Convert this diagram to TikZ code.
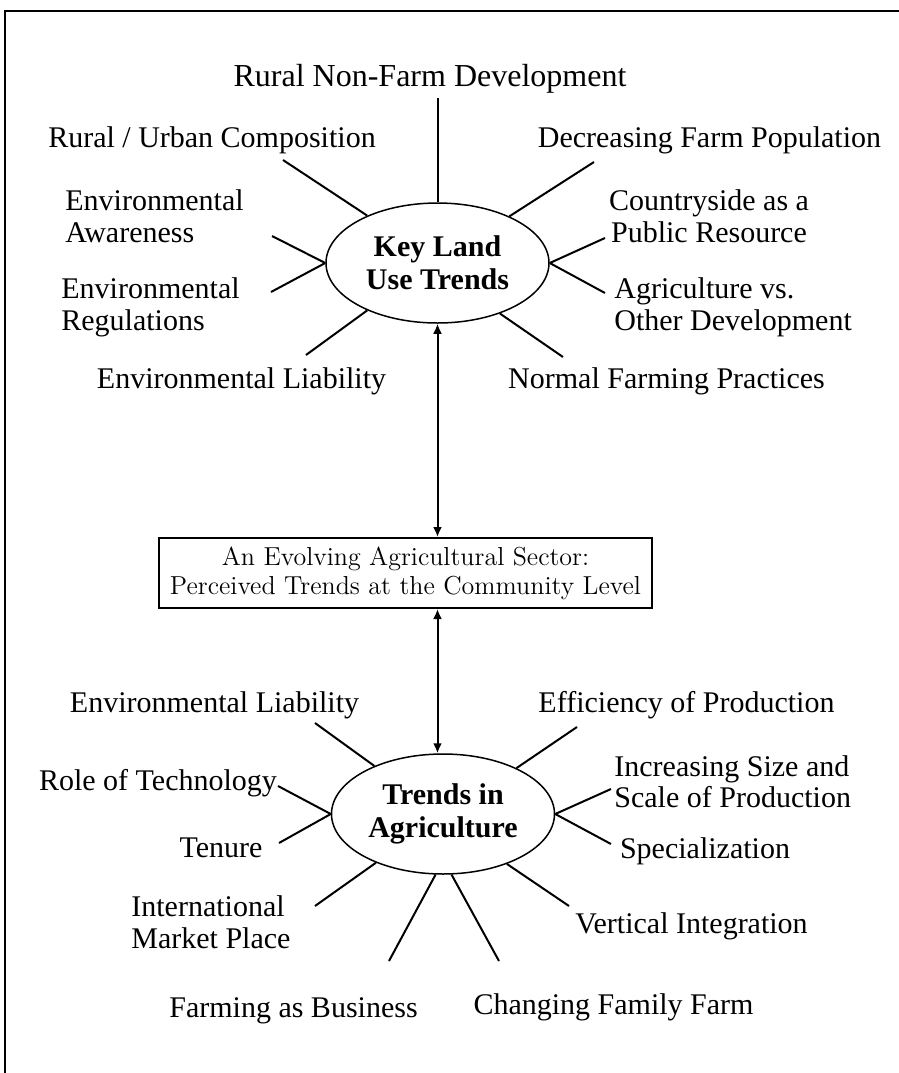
\documentclass[tikz,border=0pt]{standalone}
\usepackage{fontspec}
\newfontfamily\labelfont{Liberation Serif}
\usetikzlibrary{shapes.geometric,arrows.meta}

\begin{document}
\begin{tikzpicture}[x=0.5pt,y=-0.5pt]
    \tikzstyle{trend}=[font=\labelfont\fontsize{15}{15.75}\selectfont,inner sep=0pt]
    \tikzstyle{hub}=[draw,ellipse,line width=0.75pt,minimum width=111.5pt,minimum height=60pt,inner sep=0pt,align=center,font=\labelfont\bfseries\fontsize{15}{16.5}\selectfont]
    \tikzstyle{spoke}=[line width=1pt]
    \tikzstyle{twoway}=[line width=1pt,{Latex[length=5pt,width=4.5pt]}-{Latex[length=5pt,width=4.5pt]}]

    \useasboundingbox (0,0) rectangle (899,1073);
    \draw[line width=1pt] (4.5,1073) -- (4.5,11) -- (899,11);

    \node[hub] (key_land) at (437.5,263) {Key Land\\ Use Trends};
    \node[hub] (trends_agri) at (443,814) {Trends in\\ Agriculture};
    \node[draw,line width=1pt,minimum width=246.5pt,minimum height=35pt,inner sep=0pt,align=center,font=\fontsize{13}{14.5}\selectfont] (sector) at (405.5,573) {An Evolving Agricultural Sector:\\ Perceived Trends at the Community Level};

    % land use trends
    \node[trend,anchor=base,font=\labelfont\fontsize{16}{16}\selectfont] (rural_nonfarm) at (430,86) {Rural Non-Farm Development};
    \node[trend,anchor=base] (rural_urban) at (212,147) {Rural / Urban Composition};
    \node[trend,anchor=west,align=left] (env_awareness) at (65,216) {Environmental\\ Awareness};
    \node[trend,anchor=west,align=left] (env_regulations) at (61,307.5) {Environmental\\ Regulations};
    \node[trend,anchor=base] (env_liability) at (241.5,388) {Environmental Liability};
    \node[trend,anchor=base] (decreasing_pop) at (709.5,147) {Decreasing Farm Population};
    \node[trend,align=center] (countryside) at (709,216) {Countryside as a\\ Public Resource};
    \node[trend,anchor=west,align=left] (agri_vs_other) at (614,307.5) {Agriculture vs.\\ Other Development};
    \node[trend,anchor=base] (normal_practices) at (666.5,388) {Normal Farming Practices};

    % agriculture trends
    \node[trend,anchor=base] (ag_liability) at (214.5,712) {Environmental Liability};
    \node[trend,anchor=base] (technology) at (158,790) {Role of Technology};
    \node[trend,anchor=base] (tenure) at (221,857) {Tenure};
    \node[trend,anchor=west,align=left] (market_place) at (131,922) {International\\ Market Place};
    \node[trend,anchor=base] (farming_business) at (293.5,1017) {Farming as Business};
    \node[trend,anchor=base] (efficiency) at (686.5,712) {Efficiency of Production};
    \node[trend,anchor=west,align=left] (size_scale) at (614,781.8) {Increasing Size and\\ Scale of Production};
    \node[trend,anchor=base] (specialization) at (705,858) {Specialization};
    \node[trend,anchor=base] (vertical) at (691.5,933) {Vertical Integration};
    \node[trend,anchor=base] (family_farm) at (613.5,1014) {Changing Family Farm};

    % spoke ends
    \coordinate (nonfarm_end) at (437.5,98);
    \coordinate (urban_end) at (283,160);
    \coordinate (awareness_end) at (272,236);
    \coordinate (regulations_end) at (271,292);
    \coordinate (liability_end) at (306,355);
    \coordinate (population_end) at (594,162);
    \coordinate (countryside_end) at (605,238);
    \coordinate (other_end) at (605,293);
    \coordinate (practices_end) at (563,357);
    \coordinate (ag_liability_end) at (315,723);
    \coordinate (technology_end) at (278,786);
    \coordinate (tenure_end) at (279,843);
    \coordinate (market_end) at (315,906);
    \coordinate (business_end) at (389,961);
    \coordinate (family_end) at (499,961);
    \coordinate (efficiency_end) at (577,727);
    \coordinate (size_end) at (611,789);
    \coordinate (special_end) at (611,844);
    \coordinate (vertical_end) at (569,906);

    \draw[spoke] (key_land.90) -- (nonfarm_end);
    \draw[spoke] (key_land.146.5) -- (urban_end);
    \draw[spoke] (key_land.180) -- (awareness_end);
    \draw[spoke] (key_land.180) -- (regulations_end);
    \draw[spoke] (key_land.214.6) -- (liability_end);
    \draw[spoke] (key_land.33) -- (population_end);
    \draw[spoke] (key_land.0) -- (countryside_end);
    \draw[spoke] (key_land.0) -- (other_end);
    \draw[spoke] (key_land.-39) -- (practices_end);

    \draw[spoke] (trends_agri.145) -- (ag_liability_end);
    \draw[spoke] (trends_agri.180) -- (technology_end);
    \draw[spoke] (trends_agri.180) -- (tenure_end);
    \draw[spoke] (trends_agri.216) -- (market_end);
    \draw[spoke] (trends_agri.263) -- (business_end);
    \draw[spoke] (trends_agri.278) -- (family_end);
    \draw[spoke] (trends_agri.32) -- (efficiency_end);
    \draw[spoke] (trends_agri.0) -- (size_end);
    \draw[spoke] (trends_agri.0) -- (special_end);
    \draw[spoke] (trends_agri.-38.6) -- (vertical_end);

    \draw[twoway] (key_land.south) -- (key_land.south |- sector.north);
    \draw[twoway] (key_land.south |- sector.south) -- (key_land.south |- trends_agri.north);
\end{tikzpicture}
\end{document}
